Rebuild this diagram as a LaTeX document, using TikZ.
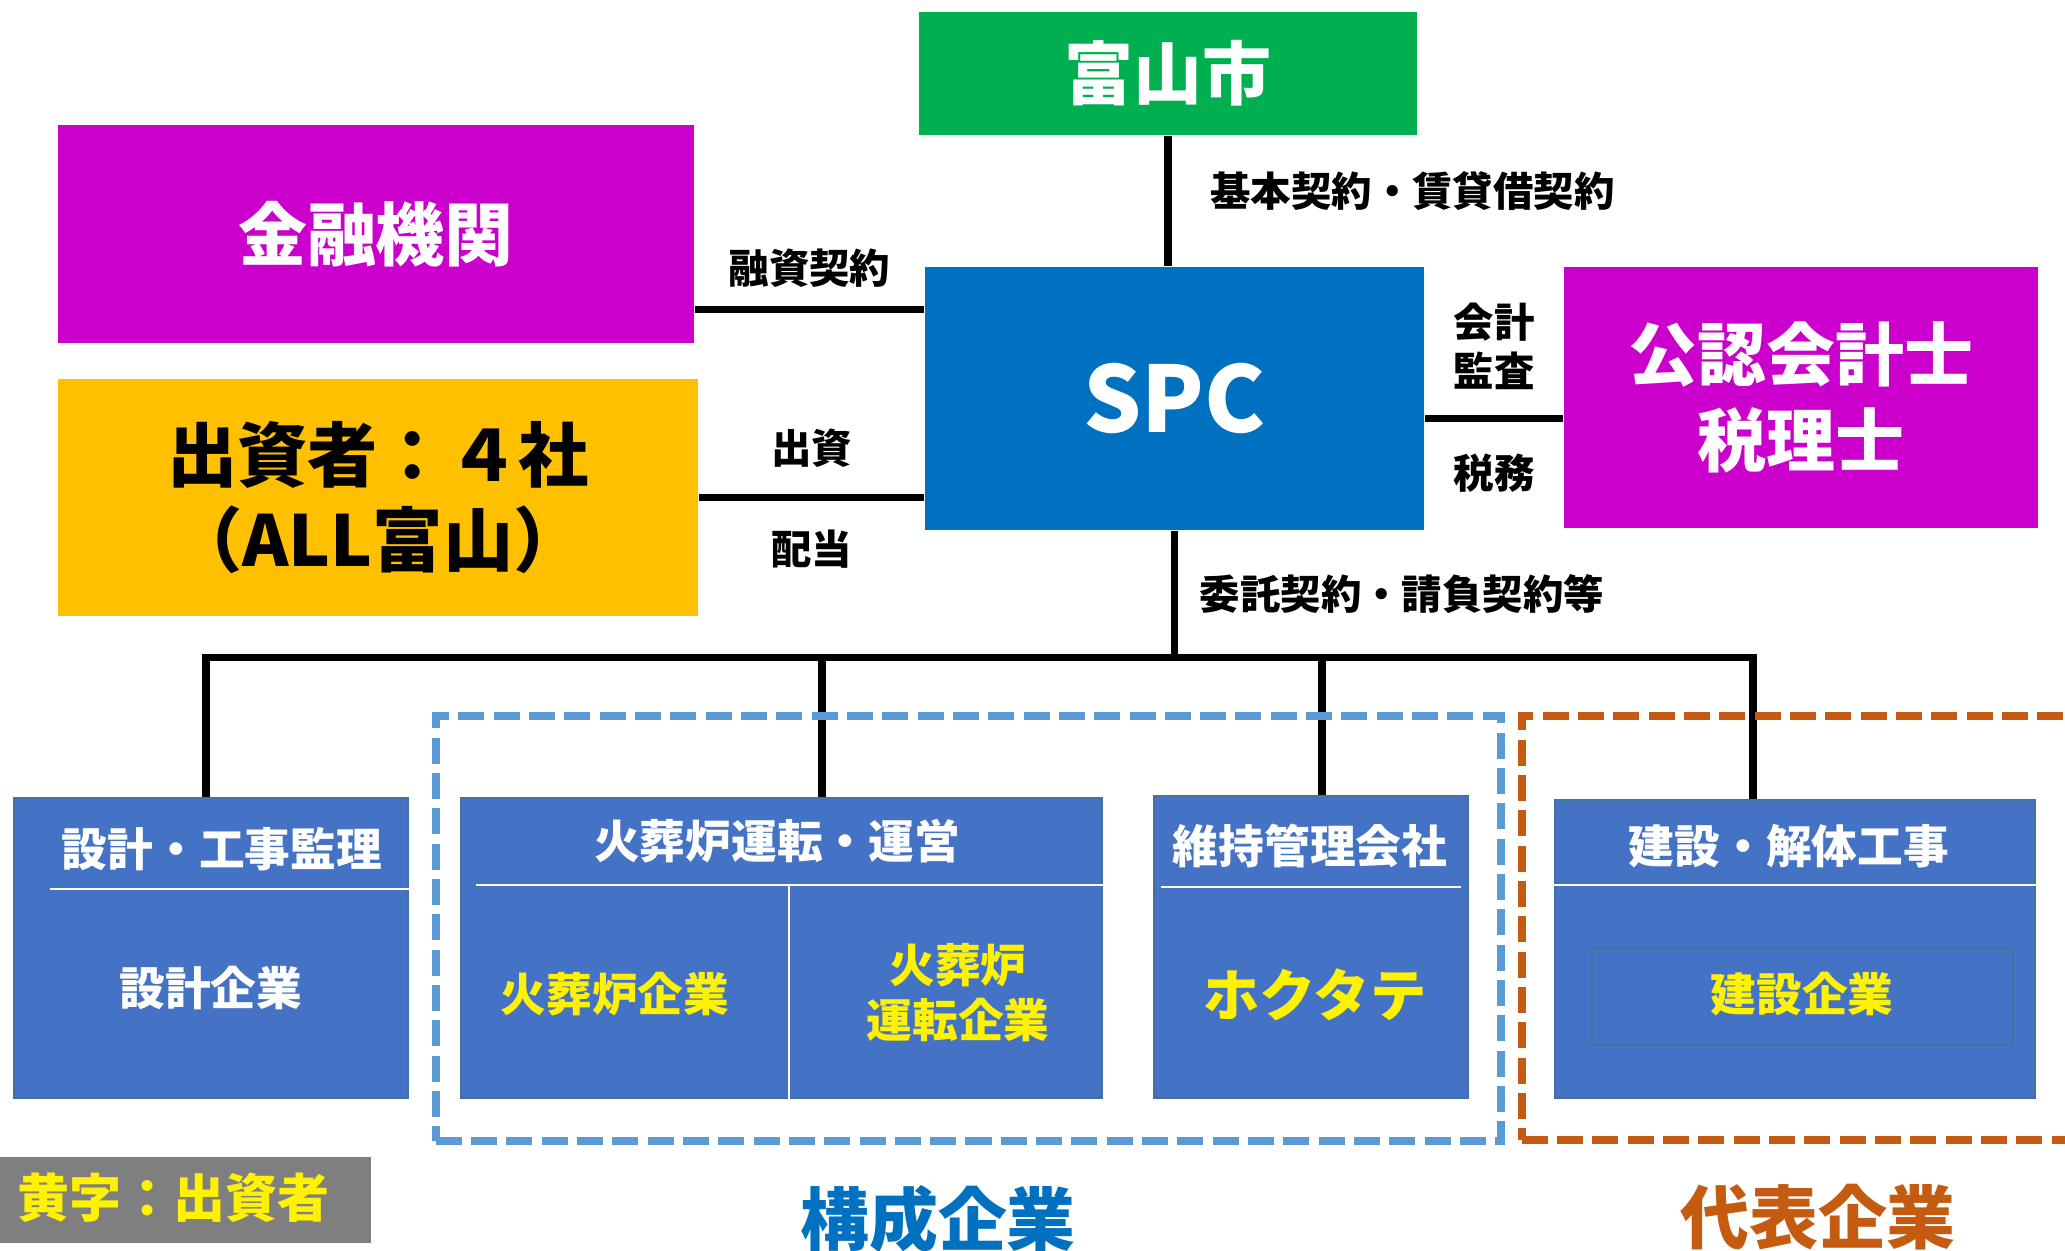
\documentclass[tikz,border=0pt]{standalone}
\usepackage{fontspec}
\setmainfont{Noto Sans CJK JP}
\definecolor{cityg}{HTML}{00B050}
\definecolor{magen}{HTML}{CC00CC}
\definecolor{gold}{HTML}{FFC000}
\definecolor{spcblue}{HTML}{0070C0}
\definecolor{firmblue}{HTML}{4472C4}
\definecolor{firmline}{HTML}{41719C}
\definecolor{grpblue}{HTML}{5B9BD5}
\definecolor{grporange}{HTML}{C55A11}
\definecolor{legendgray}{HTML}{7F7F7F}

\begin{document}
\begin{tikzpicture}[x=0.01cm,y=-0.01cm]
\tikzstyle{box}=[rectangle, inner sep=0pt]
\tikzstyle{firm}=[box, fill=firmblue, draw=firmline, line width=0.6pt]
\tikzstyle{conn}=[line width=2pt]
\tikzstyle{sep}=[white, line width=0.8pt]
\tikzstyle{lbl}=[font=\bfseries\fontsize{11.5}{13.7}\selectfont]
\tikzstyle{big}=[font=\bfseries\fontsize{19.6}{24.5}\selectfont]
\tikzstyle{head}=[text=white, font=\bfseries\fontsize{13}{15.6}\selectfont]
\tikzstyle{owner}=[text=yellow, font=\bfseries\fontsize{13}{15.6}\selectfont]
\tikzstyle{grp}=[rectangle, line width=2.35pt, dash pattern=on 0.26cm off 0.093cm]
    \clip (0,0) rectangle (2065,1250);
    \node[box, big, fill=cityg, text=white, minimum width=4.98cm, minimum height=1.23cm] (city) at (1168,73.5) {富山市};
    \node[box, big, fill=magen, text=white, minimum width=6.36cm, minimum height=2.18cm] (bank) at (376,234) {金融機関};
    \node[box, fill=gold, align=center, font=\bfseries\fontsize{20}{24}\selectfont, minimum width=6.40cm, minimum height=2.37cm] (invest) at (378,497.5) {出資者：４社\\（ALL富山）};
    \node[box, fill=spcblue, text=white, font=\bfseries\fontsize{26}{30}\selectfont, minimum width=4.99cm, minimum height=2.63cm] (spc) at (1174.5,398.5) {SPC};
    \node[box, big, fill=magen, text=white, align=center, minimum width=4.74cm, minimum height=2.61cm] (cpa) at (1801,397.5) {公認会計士\\税理士};
    \node[firm, minimum width=3.94cm, minimum height=3.00cm] (design) at (211,948) {};
    \node[firm, minimum width=6.41cm, minimum height=3.00cm] (crem) at (781.5,948) {};
    \node[firm, minimum width=3.14cm, minimum height=3.02cm] (maint) at (1311,947) {};
    \node[firm, minimum width=4.80cm, minimum height=2.98cm] (build) at (1795,949) {};
    \node[firm, minimum width=4.21cm, minimum height=0.97cm] (buildin) at (1802.5,996.5) {};
    \node[head] (designhead) at (222,849) {設計・工事監理};
    \node[head] (cremhead) at (777,841) {火葬炉運転・運営};
    \node[head] (mainthead) at (1310,846) {維持管理会社};
    \node[head] (buildhead) at (1789,846) {建設・解体工事};
    \node[head] (designfirm) at (211,988) {設計企業};
    \node[owner] (cremfirm) at (615,994) {火葬炉企業};
    \node[owner, align=center] (cremop) at (958,993) {火葬炉\\運転企業};
    \node[owner, font=\bfseries\fontsize{16}{19}\selectfont] (hokutate) at (1315,995) {ホクタテ};
    \node[owner] (buildfirm) at (1802,994) {建設企業};
    \node[box, fill=legendgray, minimum width=3.71cm, minimum height=0.86cm] (legend) at (185.5,1200) {};
    \node[text=yellow, font=\bfseries\fontsize{14.8}{18}\selectfont] (legendtext) at (173.5,1198) {黄字：出資者};
    \node[big, text=spcblue] (memberlbl) at (938,1219) {構成企業};
    \node[big, text=grporange] (leadlbl) at (1818,1217) {代表企業};
    \coordinate (busL) at (206,657);
    \coordinate (busR) at (1753,657);
    \coordinate (dropcrem) at (822,657);
    \coordinate (dropmaint) at (1322,657);
    \draw[sep] ([xshift=0.37cm,yshift=-0.92cm]design.north west) -- ([yshift=-0.92cm]design.north east);
    \draw[sep] ([xshift=0.16cm,yshift=-0.88cm]crem.north west) -- ([yshift=-0.88cm]crem.north east);
    \draw[sep] ([xshift=3.29cm,yshift=-0.89cm]crem.north west) -- ([xshift=3.29cm]crem.south west);
    \draw[sep] ([xshift=0.08cm,yshift=-0.92cm]maint.north west) -- ([xshift=-0.08cm,yshift=-0.92cm]maint.north east);
    \draw[sep] ([yshift=-0.86cm]build.north west) -- ([yshift=-0.86cm]build.north east);
    \draw[conn] (city.south) -- (city.south |- spc.north) node[pos=0.42, right=0.27cm, lbl] (leaselbl) {基本契約・賃貸借契約};
    \draw[conn] ([yshift=-0.75cm]bank.east) -- ([yshift=-0.75cm]bank.east -| spc.west) node[midway, above=0.06cm, lbl] (loanlbl) {融資契約};
    \draw[conn] (invest.east) -- (invest.east -| spc.west) node[midway, above=0.15cm, lbl] (equitylbl) {出資} node[midway, below=0.17cm, lbl] (divlbl) {配当};
    \draw[conn] ([yshift=-0.2cm]spc.east) -- ([yshift=-0.2cm]spc.east -| cpa.west) node[midway, above=0.14cm, lbl, align=center] (auditlbl) {会計\\監査} node[midway, below=0.2cm, lbl] (taxlbl) {税務};
    \draw[conn] (spc.south) -- (spc.south |- busL) node[midway, right=0.1cm, lbl] (servicelbl) {委託契約・請負契約等};
    \draw[conn] (busL |- design.north) -- (busL) -- (busR) -- (busR |- build.north);
    \draw[conn] (dropcrem) -- (dropcrem |- crem.north);
    \draw[conn] (dropmaint) -- (dropmaint |- maint.north);
    \node[grp, draw=grpblue, minimum width=10.65cm, minimum height=4.25cm] (members) at (968.5,928.5) {};
    \node[grp, draw=grporange, minimum width=5.88cm, minimum height=4.24cm] (lead) at (1816,928) {};
\end{tikzpicture}
\end{document}
